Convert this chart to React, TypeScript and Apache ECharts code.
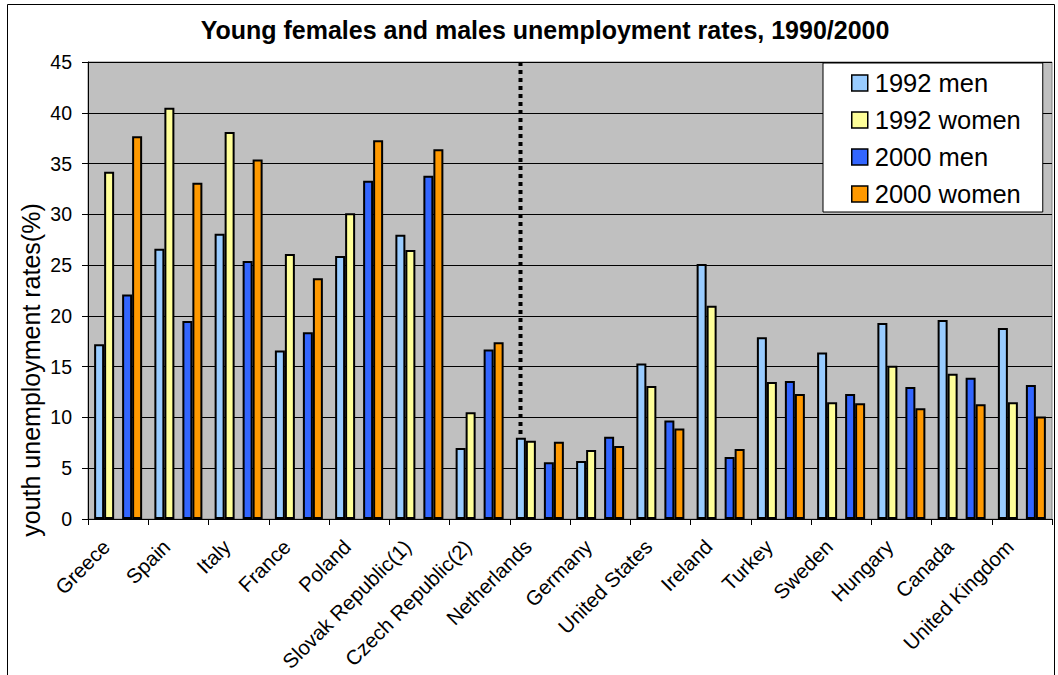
import { useEffect, useRef } from "react";
import * as echarts from "echarts";

const FONT = "'Liberation Sans', Arial, sans-serif";

const countries = [
  "Greece",
  "Spain",
  "Italy",
  "France",
  "Poland",
  "Slovak Republic(1)",
  "Czech Republic(2)",
  "Netherlands",
  "Germany",
  "United States",
  "Ireland",
  "Turkey",
  "Sweden",
  "Hungary",
  "Canada",
  "United Kingdom",
];

const men1992 = [17.2, 26.6, 28.1, 16.6, 25.9, 28.0, 7.0, 8.0, 5.7, 15.3, 25.1, 17.9, 16.4, 19.3, 19.6, 18.8];
const women1992 = [34.2, 40.5, 38.1, 26.1, 30.1, 26.5, 10.5, 7.7, 6.8, 13.1, 21.0, 13.5, 11.5, 15.1, 14.3, 11.5];
const men2000 = [22.1, 19.5, 25.4, 18.4, 33.3, 33.8, 16.7, 5.6, 8.1, 9.7, 6.1, 13.6, 12.3, 13.0, 13.9, 13.2];
const women2000 = [37.7, 33.1, 35.4, 23.7, 37.3, 36.4, 17.4, 7.6, 7.2, 8.9, 6.9, 12.3, 11.4, 10.9, 11.3, 10.1];

const seriesNames = ["1992 men", "1992 women", "2000 men", "2000 women"];
const seriesColors = ["#99CCFF", "#FFFF99", "#3366FF", "#FF9900"];

const yMin = 0;
const yMax = 45;
const yStep = 5;

// the dotted divider sits at the start of this country's bars
const dividerBefore = "Netherlands";

const titleText = "Young females and males unemployment rates, 1990/2000";
const yAxisTitle = "youth unemployment rates(%)";

function barSeries(name: string, data: number[], color: string) {
  return {
    type: "bar",
    name,
    data,
    barWidth: 10,
    barGap: "0%",
    itemStyle: { color, borderColor: "#000", borderWidth: 2 },
    silent: true,
  };
}

export default function App() {
  const ref = useRef<HTMLDivElement>(null);

  useEffect(() => {
    if (!ref.current) return;
    const chart = echarts.init(ref.current, null, { renderer: "svg" });

    chart.setOption({
      animation: false,
      backgroundColor: "#fff",
      textStyle: { fontFamily: FONT },
      grid: {
        left: 88,
        top: 62,
        right: 6,
        bottom: 156,
        containLabel: false,
        outerBoundsMode: "none",
        show: true,
        backgroundColor: "#C0C0C0",
        borderColor: "#808080",
        borderWidth: 1,
      },
      legend: {
        data: seriesNames,
        orient: "vertical",
        left: 823,
        top: 63,
        backgroundColor: "#fff",
        borderColor: "#000",
        borderWidth: 1,
        borderRadius: 0,
        padding: [7, 22, 5, 28],
        itemWidth: 16,
        itemHeight: 16,
        itemGap: 11,
        icon: "rect",
        itemStyle: { borderColor: "#000", borderWidth: 1.5 },
        textStyle: {
          fontSize: 25.5,
          lineHeight: 26,
          color: "#000",
          fontFamily: FONT,
          padding: [0, 0, 0, 2],
        },
      },
      xAxis: {
        type: "category",
        data: countries,
        axisLine: { lineStyle: { color: "#000", width: 1 } },
        axisTick: {
          show: true,
          interval: 0,
          length: 6,
          alignWithLabel: false,
          lineStyle: { color: "#000" },
        },
        axisLabel: {
          interval: 0,
          rotate: 45,
          fontSize: 20.5,
          color: "#000",
          margin: 12,
          padding: [0, 17, 0, 0],
          fontFamily: FONT,
        },
      },
      yAxis: {
        type: "value",
        min: yMin,
        max: yMax,
        interval: yStep,
        axisLine: { show: true, lineStyle: { color: "#000", width: 1 } },
        axisTick: { show: true, length: 6, lineStyle: { color: "#000" } },
        axisLabel: { fontSize: 19.5, color: "#000", margin: 16, fontFamily: FONT },
        splitLine: { lineStyle: { color: "#000", width: 1 } },
      },
      series: [
        barSeries(seriesNames[0], men1992, seriesColors[0]),
        barSeries(seriesNames[1], women1992, seriesColors[1]),
        // empty slot that separates the 1992 pair from the 2000 pair
        { type: "bar", name: "spacer", data: [], barWidth: 8, barGap: "0%", silent: true },
        barSeries(seriesNames[2], men2000, seriesColors[2]),
        barSeries(seriesNames[3], women2000, seriesColors[3]),
      ],
      graphic: [
        {
          id: "frame",
          type: "rect",
          shape: { x: 7.5, y: 4.5, width: 1047, height: 700 },
          style: { fill: "none", stroke: "#000", lineWidth: 1 },
          silent: true,
        },
        {
          id: "title",
          type: "text",
          x: 545,
          y: 30,
          style: {
            text: titleText,
            fontSize: 25,
            fontWeight: "bold",
            fontFamily: FONT,
            fill: "#000",
            textAlign: "center",
            textVerticalAlign: "middle",
          },
        },
        {
          id: "ytitle",
          type: "text",
          x: 31,
          y: 370,
          rotation: Math.PI / 2,
          style: {
            text: yAxisTitle,
            fontSize: 25,
            fontFamily: FONT,
            fill: "#000",
            textAlign: "center",
            textVerticalAlign: "middle",
          },
        },
      ],
    });

    const idx = countries.indexOf(dividerBefore);
    const c0 = chart.convertToPixel({ xAxisIndex: 0 }, countries[idx]) as number;
    const c1 = chart.convertToPixel({ xAxisIndex: 0 }, countries[idx + 1]) as number;
    const band = c1 - c0;
    const dx = Math.round(c0 - band * 0.338) + 0.5;
    const yTop = chart.convertToPixel({ yAxisIndex: 0 }, yMax) as number;
    const yBottom = chart.convertToPixel({ yAxisIndex: 0 }, yMin) as number;

    chart.setOption({
      graphic: [
        {
          id: "divider",
          type: "line",
          shape: { x1: dx, y1: yTop, x2: dx, y2: yBottom },
          style: { stroke: "#000", lineWidth: 4, lineDash: [4, 4] },
          silent: true,
        },
      ],
    });

    return () => chart.dispose();
  }, []);

  return (
    <div
      ref={ref}
      style={{ position: "absolute", left: 0, top: 0, width: 1058, height: 675 }}
    />
  );
}
